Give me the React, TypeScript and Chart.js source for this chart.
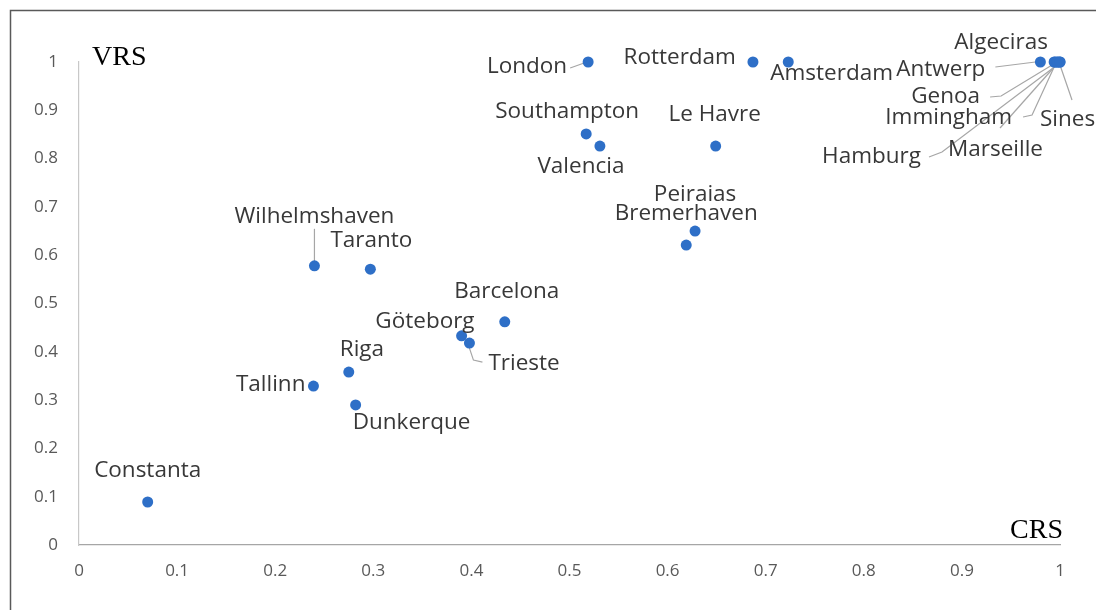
import React, { useEffect, useRef } from "react";
import { Chart, registerables } from "chart.js";

Chart.register(...registerables);

// ---- data ----
const ports = [
  "Constanta", "Tallinn", "Riga", "Dunkerque", "Wilhelmshaven", "Taranto",
  "Göteborg", "Trieste", "Barcelona", "Southampton", "Valencia", "London",
  "Rotterdam", "Amsterdam", "Le Havre", "Peiraias", "Bremerhaven", "Algeciras",
  "Antwerp", "Genoa", "Immingham", "Sines", "Marseille", "Hamburg",
];
const crs = [
  0.07, 0.239, 0.275, 0.282, 0.24, 0.297,
  0.39, 0.398, 0.434, 0.517, 0.531, 0.519,
  0.687, 0.723, 0.649, 0.628, 0.619, 0.994,
  0.98, 0.995, 0.997, 1.0, 0.998, 1.0,
];
const vrs = [
  0.089, 0.329, 0.358, 0.29, 0.578, 0.571,
  0.433, 0.418, 0.462, 0.851, 0.826, 1.0,
  1.0, 1.0, 0.826, 0.65, 0.621, 1.0,
  1.0, 1.0, 1.0, 1.0, 1.0, 1.0,
];
const xTickLabels = ["0", "0.1", "0.2", "0.3", "0.4", "0.5", "0.6", "0.7", "0.8", "0.9", "1"];
const yTickLabels = ["0", "0.1", "0.2", "0.3", "0.4", "0.5", "0.6", "0.7", "0.8", "0.9", "1"];
const xTitle = "CRS";
const yTitle = "VRS";

// ---- label placement (pixel offsets from each point) ----
type Placement = { dx: number; dy: number; align: CanvasTextAlign; leader?: number[][] };
const placements: Placement[] = [
  { dx: 0, dy: -31, align: "center" }, // Constanta
  { dx: -8, dy: -1, align: "right" }, // Tallinn
  { dx: -9, dy: -22, align: "left" }, // Riga
  { dx: -3, dy: 18, align: "left" }, // Dunkerque
  { dx: 0, dy: -49, align: "center", leader: [[0, -37], [0, -4]] }, // Wilhelmshaven
  { dx: 1, dy: -29, align: "center" }, // Taranto
  { dx: 13, dy: -14, align: "right" }, // Göteborg
  { dx: 19, dy: 20, align: "left", leader: [[-1, 2], [4, 17], [13, 19]] }, // Trieste
  { dx: 2, dy: -30, align: "center" }, // Barcelona
  { dx: -19, dy: -22, align: "center" }, // Southampton
  { dx: -19, dy: 21, align: "center" }, // Valencia
  { dx: -21, dy: 5, align: "right", leader: [[-18, 6], [-4, 1]] }, // London
  { dx: -17, dy: -4, align: "right" }, // Rotterdam
  { dx: -18, dy: 12, align: "left" }, // Amsterdam
  { dx: -1, dy: -31, align: "center" }, // Le Havre
  { dx: 0, dy: -36, align: "center" }, // Peiraias
  { dx: 0, dy: -31, align: "center" }, // Bremerhaven
  { dx: -53, dy: -19, align: "center" }, // Algeciras
  { dx: -55, dy: 8, align: "right", leader: [[-45, 5], [-5, 0]] }, // Antwerp
  { dx: -75, dy: 35, align: "right", leader: [[-65, 35], [-54, 34], [-3, 3]] }, // Genoa
  { dx: -45, dy: 56, align: "right", leader: [[-34, 55], [-25, 53], [-2, 3]] }, // Immingham
  { dx: -20, dy: 58, align: "left", leader: [[12, 38], [0, 3]] }, // Sines
  { dx: -110, dy: 88, align: "left", leader: [[-58, 66], [-2, 3]] }, // Marseille
  { dx: -139, dy: 95, align: "right", leader: [[-131, 95], [-118, 90], [-3, 3]] }, // Hamburg
];

const LABEL_FONT = "22.5px 'Open Sans'";
const TITLE_FONT = "28px 'Liberation Serif'";

const decorPlugin = {
  id: "decor",
  beforeDraw(chart: any) {
    const ctx = chart.ctx;
    ctx.save();
    ctx.fillStyle = "#ffffff";
    ctx.fillRect(0, 0, chart.width, chart.height);
    ctx.strokeStyle = "#595959";
    ctx.lineWidth = 1.5;
    ctx.beginPath();
    ctx.moveTo(10.5, chart.height + 2);
    ctx.lineTo(10.5, 10.5);
    ctx.lineTo(chart.width + 2, 10.5);
    ctx.stroke();
    ctx.restore();
  },
  beforeDatasetsDraw(chart: any) {
    const ctx = chart.ctx;
    const meta = chart.getDatasetMeta(0);
    ctx.save();
    ctx.strokeStyle = "#a6a6a6";
    ctx.lineWidth = 1.2;
    meta.data.forEach((el: any, i: number) => {
      const p = placements[i];
      if (!p || !p.leader) return;
      const { x, y } = el.getProps(["x", "y"], true);
      ctx.beginPath();
      p.leader.forEach(([lx, ly], k) => {
        if (k === 0) ctx.moveTo(x + lx, y + ly);
        else ctx.lineTo(x + lx, y + ly);
      });
      ctx.stroke();
    });
    ctx.restore();
  },
  afterDatasetsDraw(chart: any) {
    const ctx = chart.ctx;
    const meta = chart.getDatasetMeta(0);
    const area = chart.chartArea;
    ctx.save();
    ctx.font = LABEL_FONT;
    ctx.fillStyle = "#383838";
    ctx.textBaseline = "middle";
    meta.data.forEach((el: any, i: number) => {
      const p = placements[i];
      const { x, y } = el.getProps(["x", "y"], true);
      ctx.textAlign = p.align;
      ctx.fillText(ports[i], x + p.dx, y + p.dy);
    });
    ctx.font = TITLE_FONT;
    ctx.fillStyle = "#000000";
    ctx.textBaseline = "alphabetic";
    ctx.textAlign = "left";
    ctx.fillText(yTitle, area.left + 13, area.top + 3);
    ctx.textAlign = "right";
    ctx.fillText(xTitle, area.right + 3, area.bottom - 7);
    ctx.restore();
  },
};

export default function App() {
  const ref = useRef<HTMLCanvasElement | null>(null);

  useEffect(() => {
    if (!ref.current) return;
    const points = crs.map((x, i) => ({ x, y: vrs[i] }));
    const chart = new Chart(ref.current, {
      type: "scatter",
      data: {
        datasets: [
          {
            label: "Ports",
            data: points,
            backgroundColor: "#2e6fc7",
            borderColor: "#2e6fc7",
            pointRadius: 5.5,
            pointHoverRadius: 5.5,
            borderWidth: 0,
            clip: false,
          },
        ],
      },
      options: {
        responsive: false,
        animation: false,
        events: [],
        layout: { padding: { left: 20, right: 36, top: 62, bottom: 0 } },
        plugins: {
          legend: { display: false },
          tooltip: { enabled: false },
        },
        scales: {
          x: {
            type: "linear",
            min: 0,
            max: 1,
            afterFit: (s: any) => {
              s.height = 65;
            },
            ticks: {
              stepSize: 0.1,
              padding: 16,
              color: "#595959",
              font: { family: "'Open Sans'", size: 17 },
              callback: (_v: any, i: number) => xTickLabels[i],
            },
            grid: { display: false, drawTicks: false },
            border: { display: true, color: "#a6a6a6", width: 1.2 },
          },
          y: {
            type: "linear",
            min: 0,
            max: 1,
            afterFit: (s: any) => {
              s.width = 59;
            },
            ticks: {
              stepSize: 0.1,
              padding: 21,
              color: "#595959",
              font: { family: "'Open Sans'", size: 17 },
              callback: (_v: any, i: number) => yTickLabels[i],
            },
            grid: { display: false, drawTicks: false },
            border: { display: true, color: "#c8c8c8", width: 1.2 },
          },
        },
      },
      plugins: [decorPlugin],
    });
    return () => chart.destroy();
  }, []);

  return (
    <div style={{ position: "fixed", left: 0, top: 0, width: 1096, height: 610, background: "#fff" }}>
      <canvas ref={ref} width={1096} height={610} style={{ display: "block" }} />
    </div>
  );
}
